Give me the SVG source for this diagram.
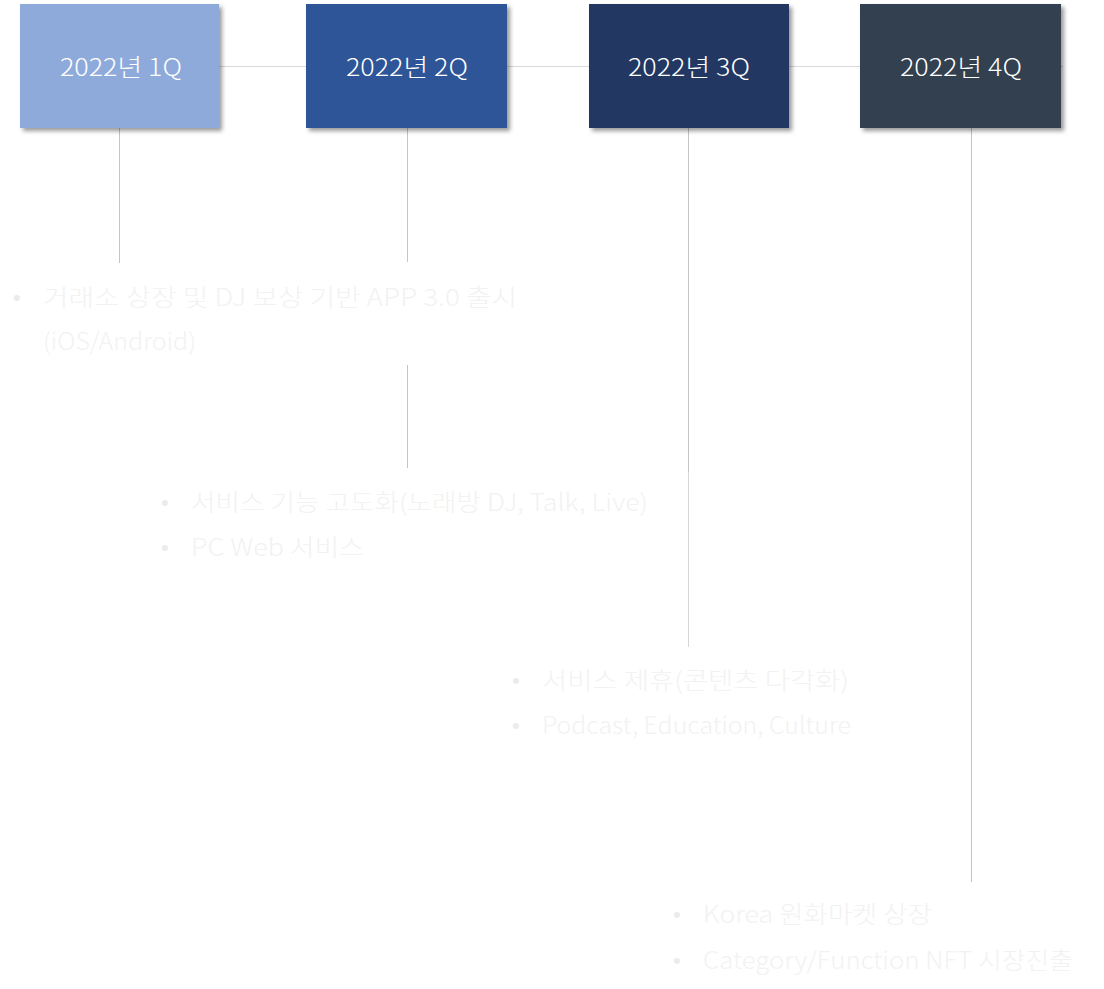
<svg xmlns="http://www.w3.org/2000/svg" width="1104" height="989" viewBox="0 0 1104 989">
<style>
.box-t{font-family:"Noto Sans CJK KR","Noto Sans",sans-serif;font-size:24px;font-weight:300;fill:#ffffff;text-anchor:middle}
.b{font-family:"Noto Sans CJK KR","Noto Sans",sans-serif;font-size:24px;font-weight:300;fill:#f2f2f2}
.dot{font-family:"Liberation Sans",sans-serif;font-size:22px;fill:#ebebeb}
.h{stroke:#d9d9d9;stroke-width:1}
.v{stroke:#c4c4c4;stroke-width:1}
.v2{stroke:#d6d6d6;stroke-width:1}
</style>
<defs>
<filter id="sh" x="-10%" y="-10%" width="130%" height="130%">
<feDropShadow dx="3" dy="3" stdDeviation="2" flood-color="#000" flood-opacity="0.4"/>
</filter>
</defs>
<rect width="1104" height="989" fill="#ffffff"/>
<g id="connectors">
<line class="h" x1="20" y1="66.5" x2="1063" y2="66.5"/>
<line class="v" x1="119.5" y1="128" x2="119.5" y2="263"/>
<line class="v" x1="407.5" y1="128" x2="407.5" y2="262"/>
<line class="v" x1="407.5" y1="365" x2="407.5" y2="468"/>
<line class="v" x1="688.5" y1="128" x2="688.5" y2="472"/>
<line class="v2" x1="688.5" y1="472" x2="688.5" y2="647"/>
<line class="v" x1="971.5" y1="128" x2="971.5" y2="882"/>
</g>
<g id="q1">
<rect x="20" y="4" width="199" height="124" fill="#8eaadb" filter="url(#sh)"/>
<text class="box-t" x="121" y="76" textLength="122" lengthAdjust="spacingAndGlyphs">2022년 1Q</text>
</g>
<g id="q2">
<rect x="306" y="4" width="201" height="124" fill="#2f5597" filter="url(#sh)"/>
<text class="box-t" x="407" y="76" textLength="122" lengthAdjust="spacingAndGlyphs">2022년 2Q</text>
</g>
<g id="q3">
<rect x="589" y="4" width="200" height="124" fill="#203864" filter="url(#sh)"/>
<text class="box-t" x="689" y="76" textLength="122" lengthAdjust="spacingAndGlyphs">2022년 3Q</text>
</g>
<g id="q4">
<rect x="860" y="4" width="201" height="124" fill="#333f50" filter="url(#sh)"/>
<text class="box-t" x="961" y="76" textLength="122" lengthAdjust="spacingAndGlyphs">2022년 4Q</text>
</g>
<g id="text1">
<text class="dot" x="13" y="305">•</text>
<text class="b" x="43" y="306" textLength="474" lengthAdjust="spacingAndGlyphs">거래소 상장 및 DJ 보상 기반 APP 3.0 출시</text>
<text class="b" x="43" y="350" textLength="153" lengthAdjust="spacingAndGlyphs">(iOS/Android)</text>
</g>
<g id="text2">
<text class="dot" x="161" y="510">•</text>
<text class="b" x="191" y="511" textLength="457" lengthAdjust="spacingAndGlyphs">서비스 기능 고도화(노래방 DJ, Talk, Live)</text>
<text class="dot" x="161" y="555">•</text>
<text class="b" x="191" y="556" textLength="173" lengthAdjust="spacingAndGlyphs">PC Web 서비스</text>
</g>
<g id="text3">
<text class="dot" x="512" y="688">•</text>
<text class="b" x="542" y="689" textLength="307" lengthAdjust="spacingAndGlyphs">서비스 제휴(콘텐츠 다각화)</text>
<text class="dot" x="512" y="733">•</text>
<text class="b" x="542" y="734" textLength="309" lengthAdjust="spacingAndGlyphs">Podcast, Education, Culture</text>
</g>
<g id="text4">
<text class="dot" x="673" y="922">•</text>
<text class="b" x="703" y="923" textLength="229" lengthAdjust="spacingAndGlyphs">Korea 원화마켓 상장</text>
<text class="dot" x="673" y="968">•</text>
<text class="b" x="703" y="969" textLength="370" lengthAdjust="spacingAndGlyphs">Category/Function NFT 시장진출</text>
</g>
</svg>
